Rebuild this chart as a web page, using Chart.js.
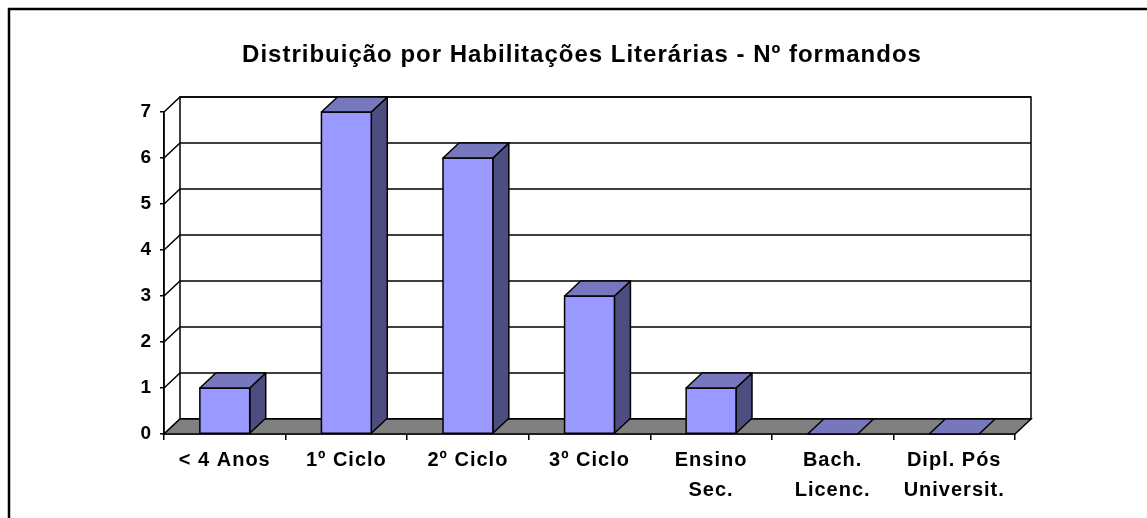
<!DOCTYPE html>
<html>
<head>
<meta charset="utf-8">
<script src="https://cdn.jsdelivr.net/npm/chart.js@4/dist/chart.umd.min.js"></script>
<style>
    html, body { margin: 0; padding: 0; background: #fff; }
    #wrap { width: 1147px; height: 518px; position: relative; }
</style>
</head>
<body>
<div id="wrap"><canvas id="habChart"></canvas></div>
<script>
const chartTitle = 'Distribuição por Habilitações Literárias - Nº formandos';
const categories = ['< 4 Anos', '1º Ciclo', '2º Ciclo', '3º Ciclo', ['Ensino', 'Sec.'], ['Bach.', 'Licenc.'], ['Dipl. Pós', 'Universit.']];
const formandos = [1, 7, 6, 3, 1, 0, 0];
const yMin = 0;
const yMax = 7;
const yStep = 1;

// depth of the fake 3D effect
const DX = 16;
const DY = 15;
const FONT = "Arial, 'Liberation Sans', sans-serif";

function poly(ctx, pts, fill) {
    ctx.beginPath();
    ctx.moveTo(pts[0][0], pts[0][1]);
    for (let i = 1; i < pts.length; i++) ctx.lineTo(pts[i][0], pts[i][1]);
    ctx.closePath();
    if (fill) {
        ctx.fillStyle = fill;
        ctx.fill();
    }
    ctx.stroke();
}

const frame3d = {
    id: 'frame3d',
    beforeDraw(chart) {
        const ctx = chart.ctx;
        ctx.letterSpacing = '1px';
        // outer border of the chart object
        ctx.save();
        ctx.strokeStyle = '#000';
        ctx.lineWidth = 2.5;
        ctx.strokeRect(9, 9, chart.width + 20, chart.height + 20);
        // title
        ctx.fillStyle = '#000';
        ctx.font = 'bold 24px ' + FONT;
        ctx.textAlign = 'center';
        ctx.textBaseline = 'middle';
        ctx.fillText(chartTitle, 582, 55);
        ctx.restore();
    },
    beforeDatasetsDraw(chart) {
        const ctx = chart.ctx;
        const a = chart.chartArea;
        const y = chart.scales.y;
        ctx.save();
        ctx.strokeStyle = '#000';
        ctx.lineWidth = 1.5;
        // back wall
        ctx.fillStyle = '#fff';
        ctx.fillRect(a.left + DX, a.top - DY, a.right - a.left, a.bottom - a.top);
        ctx.strokeRect(a.left + DX, a.top - DY, a.right - a.left, a.bottom - a.top);
        // gridlines on the wall and diagonals on the side
        y.ticks.forEach(t => {
            const py = y.getPixelForValue(t.value);
            ctx.beginPath();
            ctx.moveTo(a.left, py);
            ctx.lineTo(a.left + DX, py - DY);
            ctx.lineTo(a.right + DX, py - DY);
            ctx.stroke();
        });
        // floor
        poly(ctx, [[a.left, a.bottom], [a.left + DX, a.bottom - DY], [a.right + DX, a.bottom - DY], [a.right, a.bottom]], '#808080');
        // y axis line on top of everything in the side
        ctx.beginPath();
        ctx.moveTo(a.left, a.top);
        ctx.lineTo(a.left, a.bottom);
        ctx.stroke();
        ctx.restore();
    },
    afterDatasetsDraw(chart) {
        const ctx = chart.ctx;
        const meta = chart.getDatasetMeta(0);
        ctx.save();
        ctx.strokeStyle = '#000';
        ctx.lineWidth = 1.5;
        ctx.lineJoin = 'round';
        meta.data.forEach(bar => {
            const p = bar.getProps(['x', 'y', 'base', 'width'], true);
            const l = p.x - p.width / 2;
            const r = p.x + p.width / 2;
            if (p.base - p.y > 0.5) {
                poly(ctx, [[r, p.y], [r + DX, p.y - DY], [r + DX, p.base - DY], [r, p.base]], '#4D4D80');
                ctx.fillStyle = '#9999FF';
                ctx.fillRect(l, p.y, p.width, p.base - p.y);
                ctx.strokeRect(l, p.y, p.width, p.base - p.y);
            }
            poly(ctx, [[l, p.y], [l + DX, p.y - DY], [r + DX, p.y - DY], [r, p.y]], '#7777BE');
        });
        ctx.restore();
    }
};

const habChart = new Chart(document.getElementById('habChart'), {
    type: 'bar',
    data: {
        labels: categories,
        datasets: [{
            label: 'Nº formandos',
            data: formandos,
            backgroundColor: '#9999FF',
            borderColor: '#000',
            borderWidth: 0,
            barPercentage: 0.41,
            categoryPercentage: 1
        }]
    },
    options: {
        responsive: true,
        maintainAspectRatio: false,
        animation: false,
        devicePixelRatio: 1,
        layout: {
            padding: { left: 10, right: 132, top: 112, bottom: 0 }
        },
        plugins: {
            legend: { display: false },
            title: { display: false },
            tooltip: { enabled: false }
        },
        scales: {
            x: {
                grid: {
                    offset: true,
                    drawOnChartArea: false,
                    tickLength: 6,
                    color: '#000',
                    lineWidth: 1.5
                },
                border: { display: true, color: '#000', width: 1.5 },
                ticks: {
                    color: '#000',
                    autoSkip: false,
                    maxRotation: 0,
                    minRotation: 0,
                    padding: 5,
                    font: { family: FONT, size: 20, weight: 'bold', lineHeight: 1.5 }
                },
                afterFit(scale) { scale.height = 84; }
            },
            y: {
                min: yMin,
                max: yMax,
                grid: {
                    drawOnChartArea: false,
                    tickLength: 4,
                    color: '#000',
                    lineWidth: 1.5
                },
                border: { display: true, color: '#000', width: 1.5 },
                ticks: {
                    stepSize: yStep,
                    color: '#000',
                    padding: 8,
                    font: { family: FONT, size: 19, weight: 'bold' }
                },
                afterFit(scale) { scale.width = 154; }
            }
        }
    },
    plugins: [frame3d]
});
</script>
</body>
</html>
